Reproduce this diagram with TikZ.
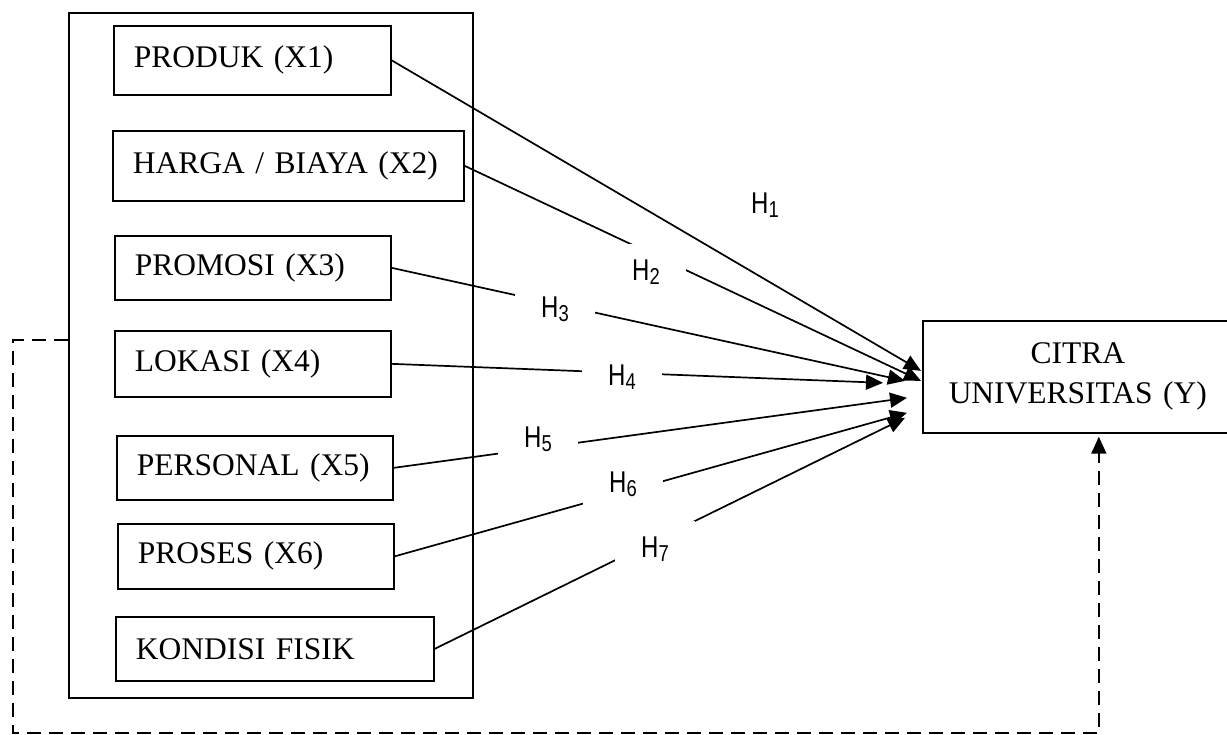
\documentclass[tikz,border=0pt]{standalone}
\usepackage{fontspec}
\setmainfont{Liberation Serif}
\newfontfamily\hfont[FakeStretch=0.8]{Liberation Sans}
\usetikzlibrary{arrows.meta}
\newcommand{\hsub}[1]{H\raisebox{-4pt}{\fontsize{23}{23}\selectfont #1}}

\begin{document}
\begin{tikzpicture}[x=1pt, y=-1pt, line width=1.7pt,
 varbox/.style 2 args={draw, anchor=north west, inner xsep=20pt, inner ysep=0pt, text width=#1, minimum height=#2, align=left, font=\fontsize{31.5}{38}\selectfont},
 hlab/.style={fill=white, inner sep=0pt, minimum width=80pt, minimum height=56pt, font=\hfont\fontsize{30}{34}\selectfont},
 arr/.style={->, >={Triangle[length=17pt,width=15pt]}},
 dashline/.style={dash pattern=on 14pt off 8pt}]
\useasboundingbox (0,0) rectangle (1227,735);
% variabel bebas
\node[draw, anchor=north west, minimum width=404pt, minimum height=685pt, inner sep=0pt] (grp) at (68,12) {};
\node[varbox={237pt}{69pt}] (produk) at (113,25) {\mbox{PRODUK (X1)}};
\node[varbox={311pt}{70pt}] (harga) at (112,130) {\mbox{HARGA / BIAYA (X2)}};
\node[varbox={236pt}{64pt}] (promosi) at (114,235) {\mbox{PROMOSI (X3)}};
\node[varbox={236pt}{66pt}] (lokasi) at (114,330) {\mbox{LOKASI (X4)}};
\node[varbox={236pt}{64pt}] (personal) at (116,435) {\mbox{PERSONAL (X5)}};
\node[varbox={236pt}{65pt}] (proses) at (117,523) {\mbox{PROSES (X6)}};
\node[varbox={278pt}{64pt}] (kondisi) at (115,616) {\mbox{KONDISI FISIK}};
% variabel terikat
\node[varbox={270pt}{112pt}, align=center, font=\fontsize{31.5}{40}\selectfont] (citra) at (922,320) {CITRA\\UNIVERSITAS (Y)};
\foreach \src/\dx/\dy in {produk/-1/-6, harga/-1/4, promosi/-17/4, lokasi/-39/6, personal/-15/21, proses/-15/36, kondisi/-17/41}
 \draw[arr] (\src.east) -- ([shift={(\dx,\dy)}]citra.west);
\foreach \n/\x/\y in {1/765/205, 2/646/272, 3/555/309, 4/622/377, 5/538/439, 6/623/484, 7/655/549}
 \node[hlab] (h\n) at (\x,\y) {\hsub{\n}};
% simultan
\coordinate (fb) at (13,733);
\draw[dashline, arr] ([yshift=15pt]grp.west) -| (fb) -| ([shift={(21,3)}]citra.south);
\end{tikzpicture}
\end{document}
